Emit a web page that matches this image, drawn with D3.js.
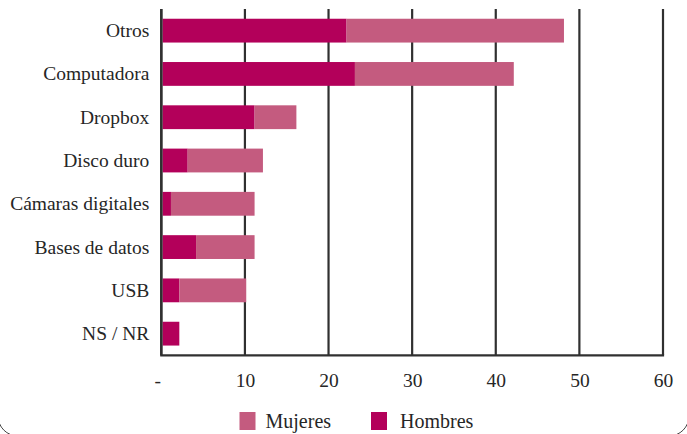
<!DOCTYPE html>
<html><head><meta charset="utf-8">
<script src="https://cdn.jsdelivr.net/npm/d3@7"></script>
<style>
html,body{margin:0;padding:0;background:#fff;}
svg{display:block;}
</style></head>
<body>
<svg id="c" width="687" height="434"></svg>
<script>
const categories = ["Otros","Computadora","Dropbox","Disco duro","Cámaras digitales","Bases de datos","USB","NS / NR"];
const hombres = [22, 23, 11, 3, 1, 4, 2, 2];
const mujeres = [26, 19, 5, 9, 10, 7, 8, 0];
const tickValues = [0, 10, 20, 30, 40, 50, 60];
const tickLabels = ["-", "10", "20", "30", "40", "50", "60"];
const seriesNames = ["Mujeres", "Hombres"];
const colors = {Hombres: "#b3005a", Mujeres: "#c45b7f"};

const FONT = '"Liberation Serif", "Times New Roman", serif';
const TXT = "#262626";
const svg = d3.select("#c");
const m = {left: 161.3, right: 663, top: 9, bottom: 355.3};

const x = d3.scaleLinear().domain([0, 60]).range([m.left, m.right]);
const y = d3.scaleBand().domain(categories).range([m.top, m.bottom]).paddingInner(0.45).paddingOuter(0.225);

// frame corners
svg.append("rect").attr("x", -2).attr("y", -40).attr("width", 691).attr("height", 476)
  .attr("rx", 20).attr("fill", "none").attr("stroke", "#444").attr("stroke-width", 1);

// gridlines
svg.append("g").selectAll("line").data(tickValues).join("line")
  .attr("x1", d => x(d)).attr("x2", d => x(d))
  .attr("y1", m.top).attr("y2", m.bottom)
  .attr("stroke", "#303030").attr("stroke-width", 2.2);

// bars (drawn just right of the axis line)
const data = categories.map((c, i) => ({cat: c, Hombres: hombres[i], Mujeres: mujeres[i]}));
const stack = d3.stack().keys(["Hombres", "Mujeres"])(data);
svg.append("g").attr("transform", "translate(1.3,0)").selectAll("g").data(stack).join("g")
  .attr("fill", s => colors[s.key])
  .selectAll("rect").data(s => s).join("rect")
  .attr("x", d => x(d[0])).attr("width", d => x(d[1]) - x(d[0]))
  .attr("y", d => y(d.data.cat)).attr("height", y.bandwidth());

// axis lines
svg.append("line").attr("x1", m.left - 1.1).attr("x2", m.right + 1.1)
  .attr("y1", m.bottom).attr("y2", m.bottom)
  .attr("stroke", "#303030").attr("stroke-width", 2.2);
svg.append("line").attr("x1", m.left).attr("x2", m.left)
  .attr("y1", m.top).attr("y2", m.bottom)
  .attr("stroke", "#303030").attr("stroke-width", 2.4);

// x tick labels
const xa = d3.axisBottom(x).tickValues(tickValues).tickFormat((d, i) => tickLabels[i]).tickSize(0).tickPadding(0);
const gx = svg.append("g").attr("transform", `translate(0,${m.bottom})`).call(xa);
gx.select(".domain").remove();
gx.selectAll("text").style("font-size", "19.5px").style("font-family", FONT)
  .style("fill", TXT).attr("dy", null).attr("y", 31.7)
  .attr("dx", d => d === 0 ? "-4" : "0");

// y labels
const ya = d3.axisLeft(y).tickSize(0).tickPadding(12);
const gy = svg.append("g").attr("transform", `translate(${m.left},0)`).call(ya);
gy.select(".domain").remove();
gy.selectAll("text").style("font-size", "19.5px").style("font-family", FONT).style("fill", TXT)
  .attr("dy", "0.33em");

// legend
const legX = [239.5, 371];
const legTextDx = [26, 29];
const lg = svg.append("g").selectAll("g").data(seriesNames).join("g")
  .attr("transform", (d, i) => `translate(${legX[i]},412)`);
lg.append("rect").attr("width", 16).attr("height", 18).attr("fill", d => colors[d]);
lg.append("text").attr("x", (d, i) => legTextDx[i]).attr("y", 15.5)
  .style("font-size", "20px").style("font-family", FONT).style("fill", TXT).text(d => d);
</script>
</body></html>
